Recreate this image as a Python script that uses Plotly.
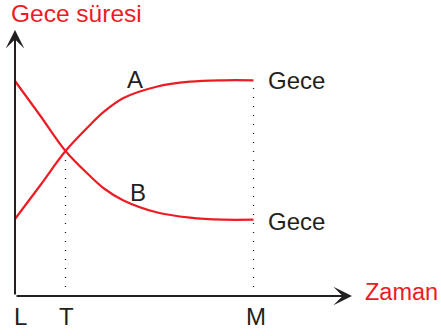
import plotly.graph_objects as go

# --- data (time in arbitrary units, night duration in arbitrary units) ---
tick_vals = [0, 10.1, 47.7]
tick_text = ["L", "T", "M"]

time_a = [0, 5.1, 10.1, 15, 17.8, 21.7, 28.3, 35, 41.6, 47.7]
night_a = [77, 111, 145, 171, 184.3, 198, 209.3, 214.3, 215.7, 215.7]

time_b = [0, 5.1, 10.1, 15, 17.8, 21.7, 28.3, 35, 41.6, 47.7]
night_b = [215, 180, 145, 120, 107.5, 95.5, 83.7, 78.3, 76.3, 76.3]

x_end = 67.4   # x-axis arrow tip
y_end = 266    # y-axis arrow tip

RED = "#ed1c24"
DARK = "#231f20"
FONT = "Liberation Sans, Arial, sans-serif"

fig = go.Figure()

for tx, ny in ((time_a, night_a), (time_b, night_b)):
    fig.add_trace(go.Scatter(x=tx, y=ny, mode="lines",
                             line=dict(color=RED, width=2.2, shape="spline", smoothing=1.0),
                             hoverinfo="skip"))

shapes = []
# dotted guides at T and M
shapes.append(dict(type="line", x0=tick_vals[1], x1=tick_vals[1], y0=0, y1=night_a[2] - 2,
                   line=dict(color=DARK, width=1.3, dash="1px,8px")))
shapes.append(dict(type="line", x0=tick_vals[2], x1=tick_vals[2], y0=0, y1=night_a[-1] - 4,
                   line=dict(color=DARK, width=1.3, dash="1px,8px")))

annotations = []
# axes with arrowheads
annotations.append(dict(x=0, y=y_end, ax=0, ay=0, xref="x", yref="y", axref="x", ayref="y",
                        text="", showarrow=True, arrowhead=3, arrowsize=1.55, arrowwidth=2,
                        arrowcolor=DARK))
annotations.append(dict(x=x_end, y=0, ax=0, ay=0, xref="x", yref="y", axref="x", ayref="y",
                        text="", showarrow=True, arrowhead=3, arrowsize=1.55, arrowwidth=2,
                        arrowcolor=DARK))

# tick labels
shifts = [5, 1, 2]
for v, t, s in zip(tick_vals, tick_text, shifts):
    annotations.append(dict(x=v, y=-20, text=t, showarrow=False, xshift=s,
                            font=dict(family=FONT, size=24, color=DARK),
                            xanchor="center", yanchor="middle"))

# axis titles
annotations.append(dict(x=-1.2, y=282.5, text="Gece süresi", showarrow=False,
                        font=dict(family=FONT, size=24.5, color=RED),
                        xanchor="left", yanchor="middle"))
annotations.append(dict(x=69.6, y=4, text="Zaman", showarrow=False,
                        font=dict(family=FONT, size=23.5, color=RED),
                        xanchor="left", yanchor="middle"))

# curve labels
annotations.append(dict(x=24.0, y=216.5, text="A", showarrow=False,
                        font=dict(family=FONT, size=24, color=DARK),
                        xanchor="center", yanchor="middle"))
annotations.append(dict(x=24.6, y=104, text="B", showarrow=False,
                        font=dict(family=FONT, size=24, color=DARK),
                        xanchor="center", yanchor="middle"))
annotations.append(dict(x=tick_vals[2] + 2.5, y=night_a[-1], text="Gece", showarrow=False,
                        font=dict(family=FONT, size=24, color=DARK),
                        xanchor="left", yanchor="middle"))
annotations.append(dict(x=tick_vals[2] + 2.5, y=night_b[-1] - 1.5, text="Gece", showarrow=False,
                        font=dict(family=FONT, size=24, color=DARK),
                        xanchor="left", yanchor="middle"))

fig.update_layout(
    width=441, height=336,
    margin=dict(l=0, r=0, t=0, b=0),
    paper_bgcolor="white", plot_bgcolor="white",
    showlegend=False,
    xaxis=dict(range=[-3, 85.2], visible=False, fixedrange=True),
    yaxis=dict(range=[-40, 296], visible=False, fixedrange=True),
    shapes=shapes, annotations=annotations,
)

# remove the default page margin so the figure fills the window exactly
fig.write_html("out.html", config={"displayModeBar": False},
               post_script="document.body.style.margin='0';document.body.style.overflow='hidden';")
